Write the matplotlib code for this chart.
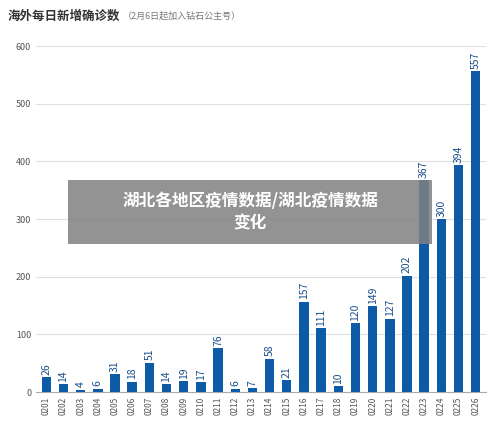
import matplotlib
matplotlib.use("Agg")
import matplotlib.pyplot as plt
from matplotlib.patches import Rectangle

plt.rcParams['font.family'] = ['Noto Sans CJK SC', 'DejaVu Sans']

dates = ["0201","0202","0203","0204","0205","0206","0207","0208","0209","0210","0211","0212","0213",
         "0214","0215","0216","0217","0218","0219","0220","0221","0222","0223","0224","0225","0226"]
values = [26,14,4,6,31,18,51,14,19,17,76,6,7,58,21,157,111,10,120,149,127,202,367,300,394,557]
yticks = [0,100,200,300,400,500,600]

fig = plt.figure(figsize=(5,4.28), dpi=100)
ax = fig.add_axes([0.072, 0.084, 0.9, 0.8085])
x = range(len(values))
ax.bar(x, values, width=0.55, color='#0d5aa7', zorder=3)
for i, v in zip(x, values):
    ax.text(i, v+4, str(v), rotation=90, ha='center', va='bottom', fontsize=7.5, color='#1a4f8a')
ax.set_xlim(-0.6, len(values)-0.4)
ax.set_ylim(0, 600)
ax.set_yticks(yticks)
ax.set_xticks(list(x))
ax.set_xticklabels(dates, rotation=90, fontsize=6, color='#555555')
ax.tick_params(axis='y', labelsize=6.5, colors='#555555', length=0)
ax.tick_params(axis='x', length=0)
ax.grid(axis='y', color='#e0e0e0', linewidth=0.8, zorder=0)
for s in ['top','right','left']:
    ax.spines[s].set_visible(False)
ax.spines['bottom'].set_color('#aaaaaa')

fig.text(0.016, 0.962, "海外每日新增确诊数", fontsize=9, fontweight='bold', color='#333333', va='center')
fig.text(0.245, 0.962, "（2月6日起加入钻石公主号）", fontsize=6.5, color='#777777', va='center')

fig.patches.append(Rectangle((68/500, 1-244/428), 364/500, 64/428, transform=fig.transFigure,
                             facecolor='#808080', alpha=0.85, zorder=10))
fig.text(0.5, 1-212/428, "湖北各地区疫情数据/湖北疫情数据\n变化", ha='center', va='center',
         fontsize=12, fontweight='bold', color='white', zorder=11, linespacing=1.3)

fig.savefig("out.png", dpi=100)
